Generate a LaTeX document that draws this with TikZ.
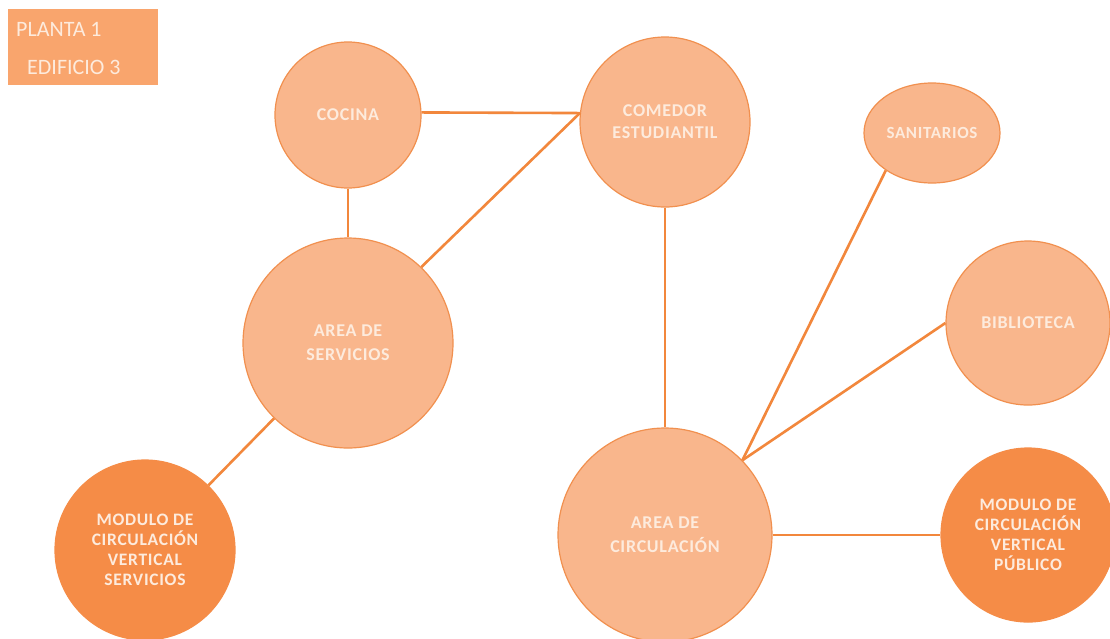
\documentclass[tikz,border=0pt]{standalone}
\usepackage{fontspec}
\setmainfont{Carlito}
\usetikzlibrary{shapes.geometric}
\definecolor{lightfill}{HTML}{F9B68C}
\definecolor{lightedge}{HTML}{F1904F}
\definecolor{darkfill}{HTML}{F58C47}
\definecolor{linecol}{HTML}{F2873C}
\definecolor{txtcol}{HTML}{FDEBDD}
\definecolor{titlefill}{HTML}{F9A56D}
\newcommand{\nodefont}[2]{\fontsize{#1}{#2}\selectfont\bfseries\addfontfeatures{LetterSpace=4}}
\tikzset{
  lightc/.style={circle, fill=lightfill, draw=lightedge, line width=1.2pt, inner sep=0pt,
    text=txtcol, align=center, font=\nodefont{18}{22}},
  darkc/.style={circle, fill=darkfill, draw=darkfill, line width=1.2pt, inner sep=0pt,
    text=txtcol, align=center, font=\nodefont{17.5}{20}},
  link/.style={draw=linecol, line width=2.6pt},
}
\begin{document}
\begin{tikzpicture}[x=1pt,y=-1pt]
\useasboundingbox[fill=white] (0,0) rectangle (1110,638);
% title
\node[fill=titlefill, minimum width=150pt, minimum height=76pt, inner sep=0pt] (title) at (83,47) {};
\node[anchor=west, text=txtcol, font=\fontsize{22}{26}\selectfont, inner sep=0pt] (t1) at (16,29) {PLANTA 1};
\node[anchor=west, text=txtcol, font=\fontsize{22}{26}\selectfont, inner sep=0pt] (t2) at (27,67) {EDIFICIO 3};
% nodes
\node[lightc, minimum size=146pt] (cocina) at (348,115) {COCINA};
\node[lightc, minimum size=170pt] (comedor) at (665,122) {COMEDOR\\ESTUDIANTIL};
\node[ellipse, fill=lightfill, draw=lightedge, line width=1.2pt, minimum width=136pt, minimum height=100pt, inner sep=0pt,
  text=txtcol, font=\nodefont{17}{20}] (sani) at (932,133) {SANITARIOS};
\node[lightc, minimum size=210pt, font=\nodefont{18}{24}] (serv) at (348,343) {AREA DE\\SERVICIOS};
\node[lightc, minimum size=164pt] (bib) at (1028,323) {BIBLIOTECA};
\node[lightc, minimum size=214pt, font=\nodefont{18}{24}] (circ) at (665,535) {AREA DE\\CIRCULACIÓN};
\node[darkc, minimum size=180pt] (modS) at (145,550) {MODULO DE\\CIRCULACIÓN\\VERTICAL\\SERVICIOS};
\node[darkc, minimum size=174pt] (modP) at (1028,535) {MODULO DE\\CIRCULACIÓN\\VERTICAL\\PÚBLICO};
% connectors
\draw[link] (cocina.2) -- (comedor.174);
\draw[link] (cocina) -- (serv);
\draw[link] (serv.46) -- (comedor.174);
\draw[link] (comedor) -- (circ);
\draw[link] (sani.219) -- (circ.44);
\draw[link] (bib.west) -- (circ.44);
\draw[link] (circ) -- (modP);
\draw[link] (serv) -- (modS);
\end{tikzpicture}
\end{document}
